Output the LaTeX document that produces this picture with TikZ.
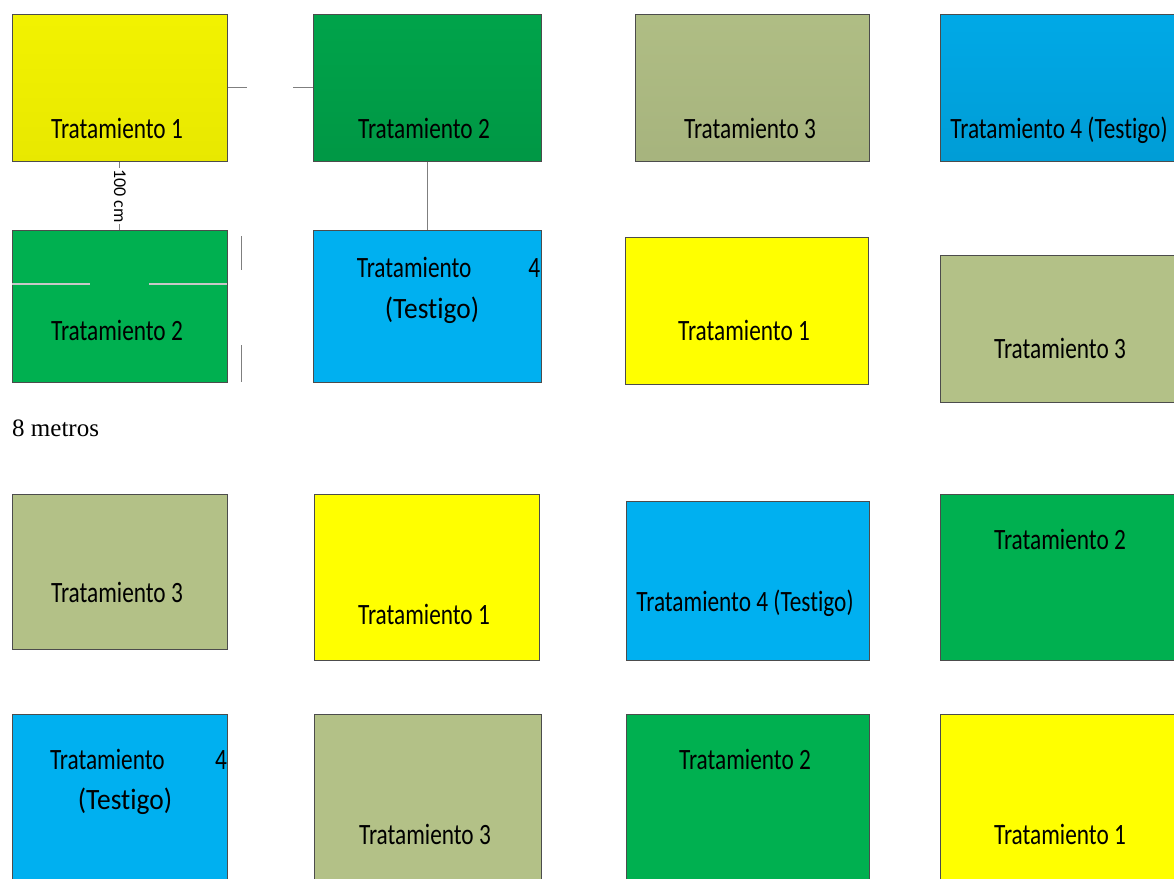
\documentclass[tikz,border=0pt]{standalone}
\usepackage{fontspec}
\setmainfont{Carlito}[RawFeature={-liga;-clig;-calt;-dlig}]
\newfontfamily\timesfont{Liberation Serif}
\usetikzlibrary{positioning}

\definecolor{amarillo}{HTML}{FFFF00}
\definecolor{verde}{HTML}{00B050}
\definecolor{oliva}{HTML}{B3C187}
\definecolor{celeste}{HTML}{00B0F0}
\definecolor{linea}{HTML}{7F7F7F}

\newcommand\tlab[1]{\scalebox{0.79}[1]{#1}}
\newcommand\tlabt[1]{\scalebox{0.93}[1]{#1}}

\tikzset{
  parcela/.style={draw=black!70, line width=0.8pt, inner sep=0pt, anchor=north west},
  trat/.style={anchor=base, inner sep=0pt, font=\fontsize{29.5}{33}\selectfont},
  cota/.style={draw=linea, line width=0.9pt},
}

\begin{document}
\begin{tikzpicture}[x=1pt,y=-1pt]
\useasboundingbox (0,0) rectangle (1174,878);

% fila 1
\node[parcela, top color=yellow!95!black, bottom color=yellow!91!black, minimum width=215pt, minimum height=147pt] (A1) at (12,14) {};
\node[parcela, top color=verde!93!black, bottom color=verde!86!black, minimum width=228pt, minimum height=147pt] (A2) at (313,14) {};
\node[parcela, top color=oliva!98!black, bottom color=oliva!93!black, minimum width=234pt, minimum height=147pt] (A3) at (635,14) {};
\node[parcela, top color=celeste!96!black, bottom color=celeste!89!black, minimum width=240pt, minimum height=147pt] (A4) at (940,14) {};
\node[trat] (tA1) at (117,138) {\tlab{Tratamiento 1}};
\node[trat] (tA2) at (424,138) {\tlab{Tratamiento 2}};
\node[trat] (tA3) at (750,138) {\tlab{Tratamiento 3}};
\node[trat] (tA4) at (1059,138) {\tlab{Tratamiento\ 4\ (Testigo)}};

% fila 2
\node[parcela, fill=verde, minimum width=215pt, minimum height=152pt] (B1) at (12,230) {};
\node[parcela, fill=celeste, minimum width=228pt, minimum height=152pt] (B2) at (313,230) {};
\node[parcela, fill=amarillo, minimum width=243pt, minimum height=147pt] (B3) at (625,237) {};
\node[parcela, fill=oliva, minimum width=240pt, minimum height=147pt] (B4) at (940,255) {};
\node[trat] (tB1) at (117,340) {\tlab{Tratamiento 2}};
\node[trat] (tB2) at (448.5,277) {\tlab{\makebox[232pt]{Tratamiento\hfill4}}};
\node[trat] (tB2b) at (432,318) {\tlabt{(Testigo)}};
\node[trat] (tB3) at (744,340) {\tlab{Tratamiento 1}};
\node[trat] (tB4) at (1060,358) {\tlab{Tratamiento 3}};

\node[anchor=base west, inner sep=0pt, font=\timesfont\fontsize{25}{28}\selectfont] (ocho) at (12,436) {8 metros};

% fila 3
\node[parcela, fill=oliva, minimum width=215pt, minimum height=155pt] (C1) at (12,494) {};
\node[parcela, fill=amarillo, minimum width=225pt, minimum height=166pt] (C2) at (314,494) {};
\node[parcela, fill=celeste, minimum width=243pt, minimum height=159pt] (C3) at (626,501) {};
\node[parcela, fill=verde, minimum width=240pt, minimum height=166pt] (C4) at (940,494) {};
\node[trat] (tC1) at (117,602) {\tlab{Tratamiento 3}};
\node[trat] (tC2) at (424,624) {\tlab{Tratamiento 1}};
\node[trat] (tC3) at (745,611) {\tlab{Tratamiento\ 4\ (Testigo)}};
\node[trat] (tC4) at (1060,549) {\tlab{Tratamiento 2}};

% fila 4
\node[parcela, fill=celeste, minimum width=215pt, minimum height=175pt] (D1) at (12,714) {};
\node[parcela, fill=oliva, minimum width=227pt, minimum height=175pt] (D2) at (314,714) {};
\node[parcela, fill=verde, minimum width=243pt, minimum height=175pt] (D3) at (626,714) {};
\node[parcela, fill=amarillo, minimum width=240pt, minimum height=175pt] (D4) at (940,714) {};
\node[trat] (tD1) at (138.5,769) {\tlab{\makebox[224pt]{Tratamiento\hfill4}}};
\node[trat] (tD1b) at (125,809) {\tlabt{(Testigo)}};
\node[trat] (tD2) at (425,844) {\tlab{Tratamiento 3}};
\node[trat] (tD3) at (745,769) {\tlab{Tratamiento 2}};
\node[trat] (tD4) at (1060,844) {\tlab{Tratamiento 1}};

% cotas
\draw[cota] (A1.east) -- ++(19,0);
\draw[cota] (A2.west) -- ++(-20,0);
\draw[cota] (A1.south) -- (B1.north)
  node[midway, sloped, fill=white, inner sep=1pt, font=\fontsize{18}{20}\selectfont] (cien) {100 cm};
\draw[cota] (A2.south) -- (B2.north);

\coordinate (b1a) at (12,284);
\coordinate (b1b) at (90,284);
\coordinate (b1c) at (149,284);
\coordinate (b1d) at (227,284);
\draw[draw=black!22, line width=1.5pt] (b1a) -- (b1b) (b1c) -- (b1d);
\coordinate (m1) at (241,236);
\coordinate (m2) at (241,270);
\coordinate (m3) at (241,345);
\coordinate (m4) at (241,382);
\draw[cota] (m1) -- (m2) (m3) -- (m4);
\end{tikzpicture}
\end{document}
